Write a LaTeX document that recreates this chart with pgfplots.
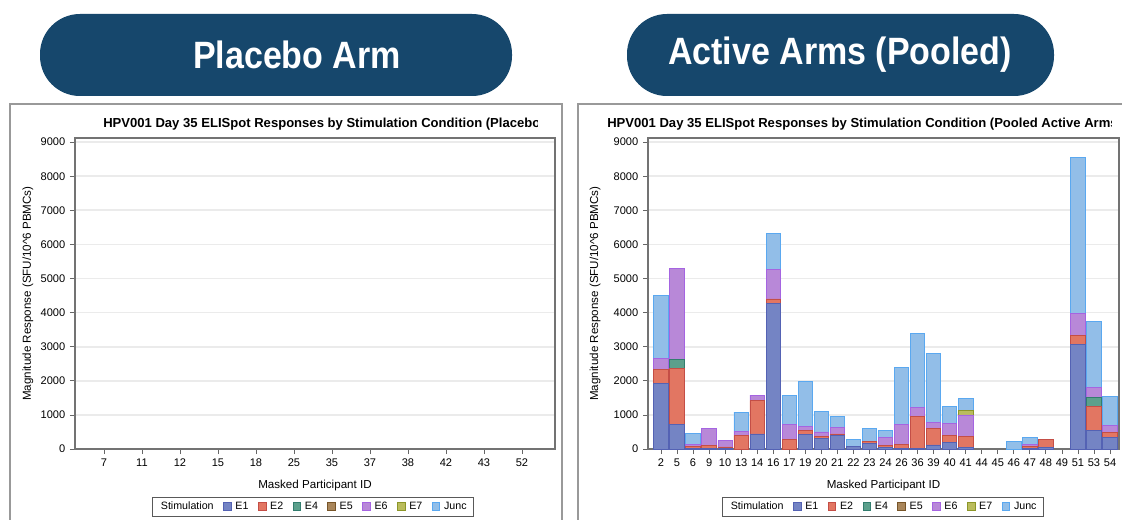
\documentclass[border=0pt]{standalone}
\usepackage{fontspec}
\setmainfont{Liberation Sans}
\usepackage{pgfplots}
\pgfplotsset{compat=1.18}
\usepackage{pgfplotstable}

\definecolor{btn}{RGB}{22,71,108}
\definecolor{cE1}{RGB}{116,132,196}\definecolor{dE1}{RGB}{84,98,180}
\definecolor{cE2}{RGB}{226,118,98}\definecolor{dE2}{RGB}{196,78,70}
\definecolor{cE4}{RGB}{92,160,140}\definecolor{dE4}{RGB}{50,125,110}
\definecolor{cE5}{RGB}{169,134,91}\definecolor{dE5}{RGB}{120,85,40}
\definecolor{cE6}{RGB}{184,136,216}\definecolor{dE6}{RGB}{165,100,225}
\definecolor{cE7}{RGB}{186,188,92}\definecolor{dE7}{RGB}{140,150,40}
\definecolor{cJ}{RGB}{146,190,232}\definecolor{dJ}{RGB}{90,168,240}

\pgfplotstableread{
idx E1 E2 E4 E5 E6 E7 Junc
0 1930 390 0 0 340 0 1830
1 710 1640 280 0 2670 0 0
2 20 60 0 0 50 0 330
3 20 80 0 0 500 0 0
4 10 50 0 0 190 0 0
5 0 390 0 0 130 0 560
6 440 980 0 0 160 0 0
7 4270 130 0 0 860 0 1060
8 0 280 0 0 440 0 860
9 430 120 0 0 100 0 1330
10 320 40 0 0 140 0 600
11 410 30 0 0 200 0 310
12 80 0 0 0 0 0 200
13 150 60 0 0 0 0 400
14 50 50 0 0 240 0 200
15 20 110 0 0 590 0 1680
16 10 940 0 0 270 0 2170
17 120 470 0 0 200 0 2000
18 190 200 0 0 360 0 500
19 40 340 0 0 620 120 350
20 0 0 0 0 0 0 0
21 0 0 0 0 0 0 0
22 0 0 0 0 0 0 210
23 20 60 0 0 60 0 190
24 40 240 0 0 0 0 0
25 0 0 0 0 0 0 0
26 3060 270 0 0 640 0 4580
27 540 710 270 0 280 0 1930
28 340 150 0 0 190 0 850
}\activedata

\pgfplotsset{
  lg/.style={legend image code/.code={\draw[##1,line width=0.5pt] (0pt,-2.2pt) rectangle (5.8pt,3.6pt);}},
  elibase/.style={
    scale only axis,
    height=233.25pt,
    ymin=0, ymax=9120,
    ytick={0,1000,...,9000},
    ymajorgrids,
    grid style={color=black!8, line width=1.2pt},
    axis line style={black!55, line width=0.8pt},
    tick style={black!60, line width=0.6pt},
    tick align=outside,
    major tick length=3.75pt,
    xtick pos=bottom, ytick pos=left,
    ticklabel style={font=\fontsize{8.3}{9}\selectfont},
    /pgf/number format/assume math mode=true,
    /pgf/number format/set thousands separator={},
    label style={font=\fontsize{8.7}{10}\selectfont},
    xlabel={Masked Participant ID},
    ylabel={Magnitude Response (SFU/10\textasciicircum 6 PBMCs)},
    xlabel style={at={(axis description cs:0.5,-0.1158)}, anchor=center},
    legend style={anchor=center, legend columns=-1, draw=black!65, line width=0.6pt,
      font=\fontsize{8}{9}\selectfont, inner xsep=3pt, inner ysep=1.5pt,
      /tikz/every odd column/.append style={column sep=1pt},
      /tikz/every even column/.append style={column sep=5pt}},
  }
}

\begin{document}
\begin{tikzpicture}[x=0.75pt,y=0.75pt]
\useasboundingbox (0,0) rectangle (1122,519);
\fill[white] (0,0) rectangle (1122,519);
% header buttons
\fill[btn, rounded corners=30pt] (40,423) rectangle (512,505);
\fill[btn, rounded corners=30pt] (627,423) rectangle (1054,505);
\node[white, font=\bfseries\fontsize{25.5}{30}\selectfont] at (297,464) {\scalebox{1}[1.12]{Placebo Arm}};
\node[white, font=\bfseries\fontsize{25.5}{30}\selectfont] at (840,464) {\scalebox{1}[1.12]{Active Arms (Pooled)}};
% panel frames
\draw[black!40, line width=1pt] (10,-20) rectangle (562,415);
\draw[black!40, line width=1pt] (578,-20) rectangle (1140,415);
% titles
\begin{scope}
\clip (10,379) rectangle (537,414);
\node[anchor=west, font=\bfseries\fontsize{9.8}{11}\selectfont, inner sep=0pt] at (103,395) {HPV001 Day 35 ELISpot Responses by Stimulation Condition (Placebo)};
\end{scope}
\begin{scope}
\clip (579,379) rectangle (1111,414);
\node[anchor=west, font=\bfseries\fontsize{9.8}{11}\selectfont, inner sep=0pt] at (607,395) {HPV001 Day 35 ELISpot Responses by Stimulation Condition (Pooled Active Arms)};
\end{scope}

% placebo axis
\begin{axis}[elibase, at={(56.25pt,52.5pt)}, anchor=south west, width=360pt,
  xmin=-0.763, xmax=11.87, xtick={0,...,11},
  xticklabels={7,11,12,15,18,25,35,37,38,42,43,52},
  ylabel style={at={(axis description cs:-0.098,0.5)}, anchor=center},
  legend style={at={(0.496,-0.1865)}}]
\addlegendimage{empty legend}\addlegendentry{Stimulation\hspace{8pt}}
\addlegendimage{lg, fill=cE1, draw=dE1}\addlegendentry{E1}
\addlegendimage{lg, fill=cE2, draw=dE2}\addlegendentry{E2}
\addlegendimage{lg, fill=cE4, draw=dE4}\addlegendentry{E4}
\addlegendimage{lg, fill=cE5, draw=dE5}\addlegendentry{E5}
\addlegendimage{lg, fill=cE6, draw=dE6}\addlegendentry{E6}
\addlegendimage{lg, fill=cE7, draw=dE7}\addlegendentry{E7}
\addlegendimage{lg, fill=cJ, draw=dJ}\addlegendentry{Junc}
\end{axis}

% active axis
\begin{axis}[elibase, at={(486pt,52.5pt)}, anchor=south west, width=353.25pt,
  ybar stacked, bar width=0.9,
  xmin=-0.81, xmax=28.56, xtick={0,...,28},
  xticklabels={2,5,6,9,10,13,14,16,17,19,20,21,22,23,24,26,36,39,40,41,44,45,46,47,48,49,51,53,54},
  ylabel style={at={(axis description cs:-0.1125,0.5)}, anchor=center},
  legend style={at={(0.499,-0.1865)}}]
\addlegendimage{empty legend}\addlegendentry{Stimulation\hspace{8pt}}
\addplot[lg, fill=cE1, draw=dE1, line width=0.6pt] table[x=idx,y=E1]{\activedata};\addlegendentry{E1}
\addplot[lg, fill=cE2, draw=dE2, line width=0.6pt] table[x=idx,y=E2]{\activedata};\addlegendentry{E2}
\addplot[lg, fill=cE4, draw=dE4, line width=0.6pt] table[x=idx,y=E4]{\activedata};\addlegendentry{E4}
\addplot[lg, fill=cE5, draw=dE5, line width=0.6pt] table[x=idx,y=E5]{\activedata};\addlegendentry{E5}
\addplot[lg, fill=cE6, draw=dE6, line width=0.6pt] table[x=idx,y=E6]{\activedata};\addlegendentry{E6}
\addplot[lg, fill=cE7, draw=dE7, line width=0.6pt] table[x=idx,y=E7]{\activedata};\addlegendentry{E7}
\addplot[lg, fill=cJ, draw=dJ, line width=0.6pt] table[x=idx,y=Junc]{\activedata};\addlegendentry{Junc}
\end{axis}
\end{tikzpicture}
\end{document}
